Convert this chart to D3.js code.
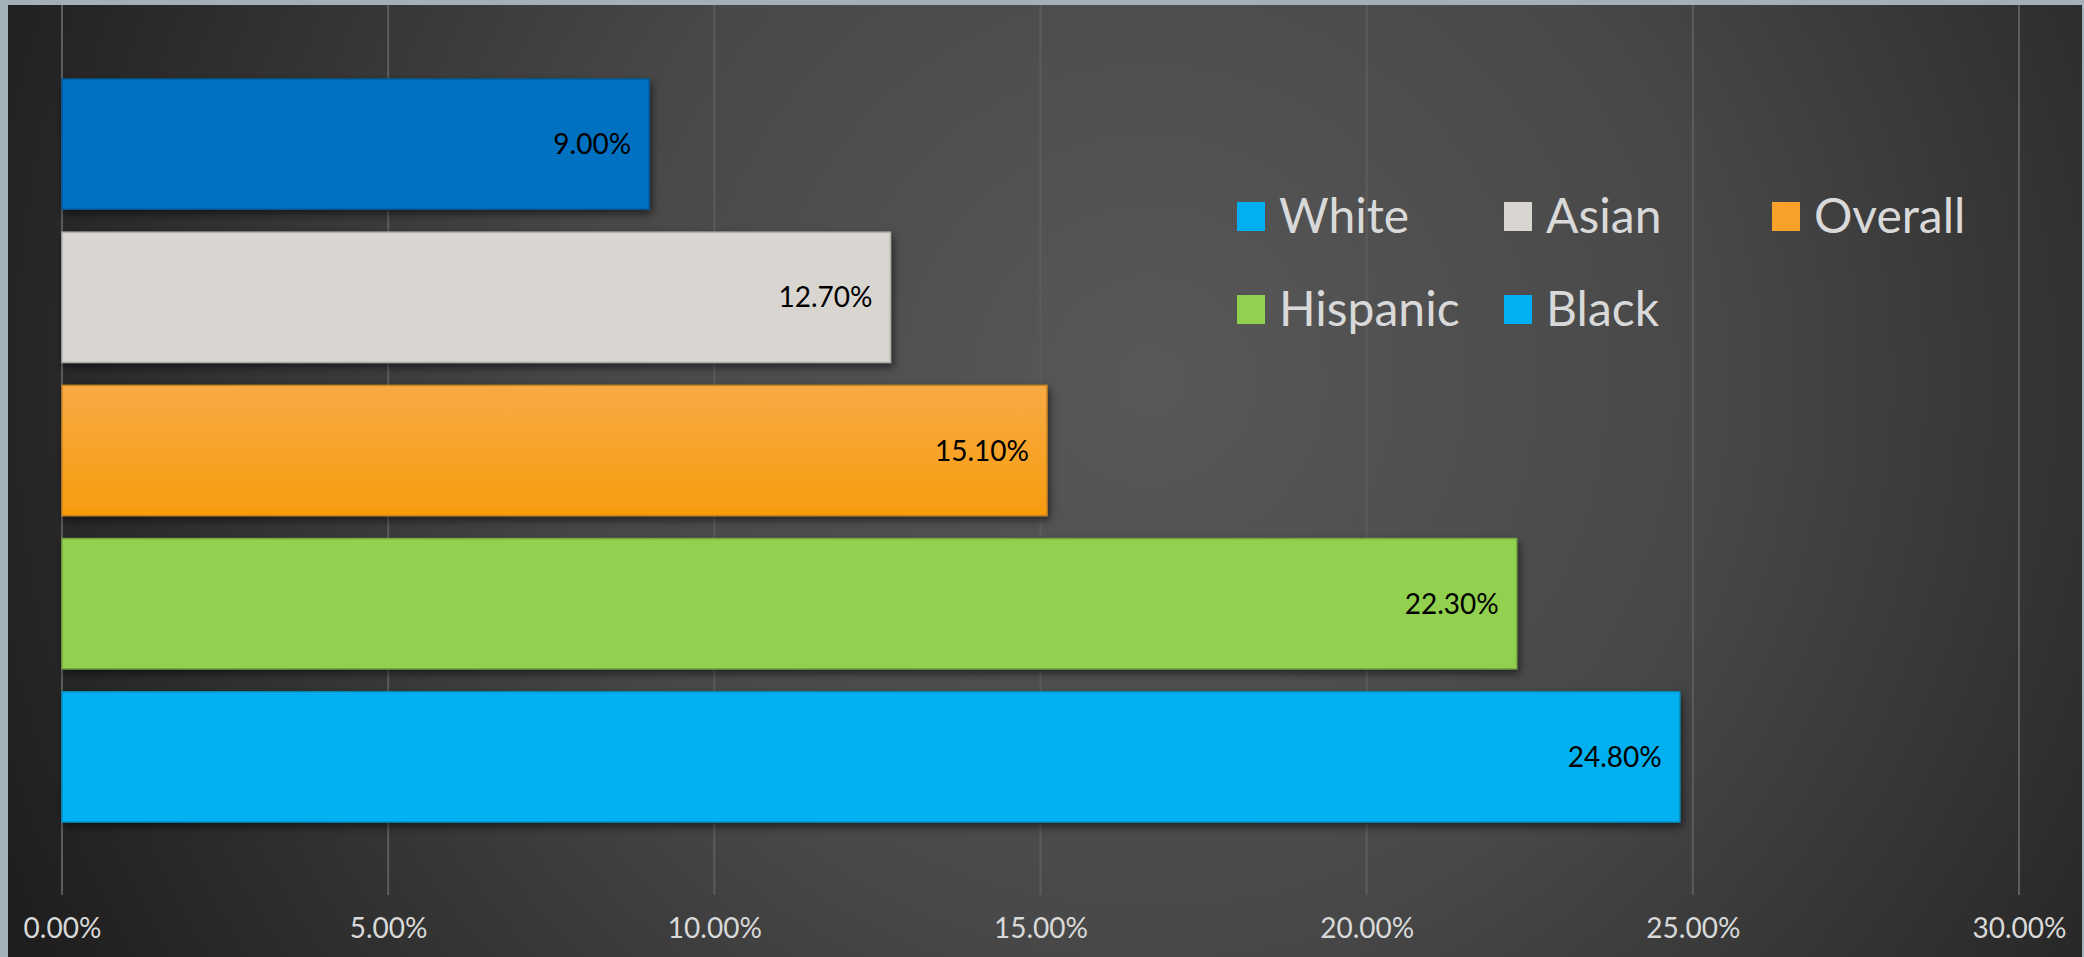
<!DOCTYPE html>
<html>
<head>
<meta charset="utf-8">
<script src="https://cdn.jsdelivr.net/npm/d3@7"></script>
<style>
  html, body { margin: 0; padding: 0; background: #a2b1b9; }
  svg { display: block; }
  text { font-family: "Lato", "Open Sans", sans-serif; }
</style>
</head>
<body>
<div class="chart"></div>
<script>
// data
var categories = ["White", "Asian", "Overall", "Hispanic", "Black"];
var values = [9.0, 12.7, 15.1, 22.3, 24.8];
var barColors = ["#0070c0", "#d9d6d1", "#f8a22a", "#92d050", "#00b0f0"];
var legendColors = ["#00b0f0", "#d9d6d1", "#f8a22a", "#92d050", "#00b0f0"];
var xTicks = [0, 5, 10, 15, 20, 25, 30];

//Width and height
var w = 2084;
var h = 957;

var svg = d3.select(".chart")
            .append("svg")
            .attr("width", w)
            .attr("height", h);

var defs = svg.append("defs");

var bg = defs.append("radialGradient")
    .attr("id", "bg")
    .attr("gradientUnits", "userSpaceOnUse")
    .attr("cx", 1150).attr("cy", 380).attr("r", 1250);
bg.append("stop").attr("offset", "0%").attr("stop-color", "#585858");
bg.append("stop").attr("offset", "45%").attr("stop-color", "#484848");
bg.append("stop").attr("offset", "100%").attr("stop-color", "#1e1e1e");

var og = defs.append("linearGradient")
    .attr("id", "orangeGrad")
    .attr("x1", 0).attr("y1", 0).attr("x2", 0).attr("y2", 1);
og.append("stop").attr("offset", "0%").attr("stop-color", "#f8ab45");
og.append("stop").attr("offset", "100%").attr("stop-color", "#f79c0e");

var shadow = defs.append("filter")
    .attr("id", "shadow")
    .attr("x", "-5%").attr("y", "-20%")
    .attr("width", "115%").attr("height", "150%");
shadow.append("feDropShadow")
    .attr("dx", 2).attr("dy", 4)
    .attr("stdDeviation", 4)
    .attr("flood-color", "#000")
    .attr("flood-opacity", 0.55);

// slide background
svg.append("rect")
    .attr("x", 8).attr("y", 5)
    .attr("width", w - 10).attr("height", h - 5)
    .attr("fill", "url(#bg)");

// scales
var x = d3.scaleLinear()
    .domain([0, 30])
    .range([62, 2019]);

var y = d3.scaleBand()
    .domain(categories)
    .range([56, 845])
    .paddingInner(0.15)
    .paddingOuter(0.15);

// gridlines
svg.selectAll("line.grid")
    .data(xTicks)
    .enter()
    .append("line")
    .attr("class", "grid")
    .attr("x1", function(d) { return x(d); })
    .attr("x2", function(d) { return x(d); })
    .attr("y1", 5)
    .attr("y2", 895)
    .attr("stroke", "#5c5c5c")
    .attr("stroke-width", 2);

// axis labels
var xAxis = d3.axisBottom(x)
    .tickValues(xTicks)
    .tickSize(0)
    .tickPadding(0)
    .tickFormat(function(d) { return d.toFixed(2) + "%"; });

var axisG = svg.append("g")
    .attr("transform", "translate(0,918)")
    .call(xAxis);
axisG.select(".domain").remove();
axisG.selectAll("text")
    .attr("fill", "#d9d9d9")
    .attr("font-size", 28)
    .attr("font-family", "Lato, sans-serif");

// bars
svg.selectAll("rect.bar")
    .data(values)
    .enter()
    .append("rect")
    .attr("class", "bar")
    .attr("x", x(0))
    .attr("y", function(d, i) { return y(categories[i]); })
    .attr("width", function(d) { return x(d) - x(0); })
    .attr("height", y.bandwidth())
    .attr("fill", function(d, i) { return i === 2 ? "url(#orangeGrad)" : barColors[i]; })
    .attr("stroke", function(d, i) { return d3.color(barColors[i]).darker(0.6); })
    .attr("stroke-width", 1.5)
    .attr("filter", "url(#shadow)");

// value labels
svg.selectAll("text.value")
    .data(values)
    .enter()
    .append("text")
    .attr("class", "value")
    .attr("x", function(d) { return x(d) - 18; })
    .attr("y", function(d, i) { return y(categories[i]) + y.bandwidth() / 2; })
    .attr("dy", "0.36em")
    .attr("text-anchor", "end")
    .attr("font-size", 28)
    .attr("fill", "#000")
    .text(function(d) { return d.toFixed(2) + "%"; });

// legend
var legendX = [1237, 1504, 1772];
var legendY = [216, 309];

var legend = svg.selectAll("g.legend")
    .data(categories)
    .enter()
    .append("g")
    .attr("class", "legend")
    .attr("transform", function(d, i) {
      return "translate(" + legendX[i % 3] + "," + legendY[Math.floor(i / 3)] + ")";
    });

legend.append("rect")
    .attr("x", 0)
    .attr("y", -14)
    .attr("width", 28)
    .attr("height", 29)
    .attr("fill", function(d, i) { return legendColors[i]; });

legend.append("text")
    .attr("x", 42)
    .attr("y", 0)
    .attr("dy", "0.36em")
    .attr("font-size", 48)
    .attr("fill", "#d9d9d9")
    .text(function(d) { return d; });
</script>
</body>
</html>
